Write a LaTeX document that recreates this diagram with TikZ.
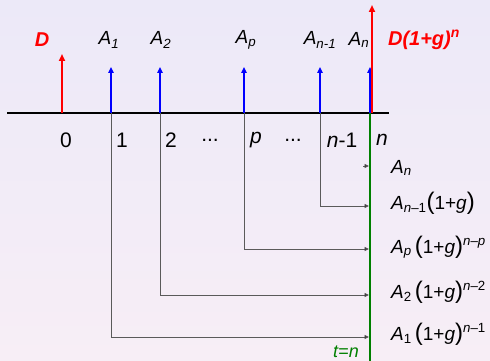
\documentclass[tikz,border=0pt]{standalone}
\usepackage{fontspec}
\setmainfont{Liberation Sans}
\usetikzlibrary{arrows.meta}
\definecolor{bgtop}{RGB}{236,233,248}
\definecolor{bgbot}{RGB}{247,238,246}
\definecolor{flowblue}{RGB}{0,0,255}
\definecolor{flowred}{RGB}{255,0,0}
\definecolor{lineg}{RGB}{0,128,0}
\definecolor{conn}{RGB}{90,90,90}
\tikzset{
  bluearr/.style={draw=flowblue, line width=2pt, -{Triangle[length=6pt,width=5.5pt]}},
  redarr/.style={draw=flowred, line width=2.4pt, -{Triangle[length=7pt,width=6pt]}},
  connarr/.style={draw=conn, line width=0.9pt, -{Triangle[length=4.5pt,width=4pt,fill=black]}},
  toplab/.style={font=\fontsize{19}{19}\selectfont\itshape, inner sep=0pt},
  redlab/.style={font=\fontsize{20}{20}\selectfont\bfseries\itshape, text=flowred, inner sep=0pt},
  numlab/.style={font=\fontsize{21}{21}\selectfont, inner sep=0pt},
  rlab/.style={font=\fontsize{19}{19}\selectfont, anchor=west, inner sep=0pt},
}
\newcommand{\bp}{{\fontsize{24}{24}\selectfont(}}
\newcommand{\ep}{{\fontsize{24}{24}\selectfont)}}
\newcommand{\hsup}[1]{\raisebox{1.5pt}{\textsuperscript{#1}}}
\begin{document}
\begin{tikzpicture}[x=1pt,y=-1pt]
\shade[top color=bgtop, bottom color=bgbot] (0,0) rectangle (490,361);
\useasboundingbox (0,0) rectangle (490,361);
% axis
\coordinate (axL) at (7,113);
\coordinate (axR) at (389,113);
\draw[line width=1.2pt] (axL) -- (axR);
% tick points
\coordinate (p0) at (62,113);
\coordinate (p1) at (111,113);
\coordinate (p2) at (160,113);
\coordinate (pp) at (244,113);
\coordinate (pn1) at (320,113);
\coordinate (pn) at (370,113);
\coordinate (pr) at (372,113);
% tops
\coordinate (h0) at (62,54);
\coordinate (h1) at (111,67);
\coordinate (h2) at (160,67);
\coordinate (hp) at (244,67);
\coordinate (hn1) at (320,67);
\coordinate (hn) at (370,67);
\coordinate (hr) at (372,5);
% green line
\coordinate (gb) at (370,361);
\draw[lineg, line width=2pt] (pn) -- (gb);
% connectors
\coordinate (c1) at (111,337);
\coordinate (c2) at (160,295);
\coordinate (cp) at (244,249);
\coordinate (cn1) at (320,206);
\coordinate (e1) at (369,337);
\coordinate (e2) at (369,295);
\coordinate (ep) at (369,249);
\coordinate (en1) at (369,206);
\coordinate (cn) at (363,166);
\coordinate (en) at (369,166);
\draw[connarr] (p1) -- (c1) -- (e1);
\draw[connarr] (p2) -- (c2) -- (e2);
\draw[connarr] (pp) -- (cp) -- (ep);
\draw[connarr] (pn1) -- (cn1) -- (en1);
\draw[connarr] (cn) -- (en);
% arrows
\draw[redarr] (p0) -- (h0);
\draw[bluearr] (p1) -- (h1);
\draw[bluearr] (p2) -- (h2);
\draw[bluearr] (pp) -- (hp);
\draw[bluearr] (pn1) -- (hn1);
\draw[bluearr] (pn) -- (hn);
\draw[redarr] (pr) -- (hr);
% top labels
\node[redlab] (lD) at (42,40) {D};
\node[toplab] (lA1) at (109,40) {A\textsubscript{1}};
\node[toplab] (lA2) at (161,40) {A\textsubscript{2}};
\node[toplab] (lAp) at (246,40) {A\textsubscript{p}};
\node[toplab] (lAn1) at (320,40) {A\textsubscript{n-1}};
\node[toplab] (lAn) at (359,40) {A\textsubscript{n}};
\node[redlab] (lDg) at (424,40) {D(1+g)\textsuperscript{n}};
% numbers
\node[numlab] (n0) at (66,140) {0};
\node[numlab] (n1) at (122,140) {1};
\node[numlab] (n2) at (171,140) {2};
\node[numlab] (nd1) at (210,140) {...};
\node[numlab] (np) at (256,140) {\itshape p};
\node[numlab] (nd2) at (293,140) {...};
\node[numlab] (nn1) at (342,140) {\textit{n}-1};
\node[numlab] (nn) at (382,140) {\itshape n};
% right labels
\node[rlab] (r1) at (391,168) {\textit{A}\textsubscript{\textit{n}}};
\node[rlab] (r2) at (391,203) {\textit{A}\textsubscript{\textit{n}–1}\bp1+\textit{g}\ep};
\node[rlab] (r3) at (391,247) {\textit{A}\textsubscript{\textit{p}}\,\bp1+\textit{g}\ep\hsup{\textit{n}–\textit{p}}};
\node[rlab] (r4) at (391,292) {\textit{A}\textsubscript{2}\,\bp1+\textit{g}\ep\hsup{\textit{n}–2}};
\node[rlab] (r5) at (391,334) {\textit{A}\textsubscript{1}\,\bp1+\textit{g}\ep\hsup{\textit{n}–1}};
\node[font=\fontsize{18}{18}\selectfont\itshape, text=lineg, inner sep=0pt] (tn) at (346,352) {t=n};
\end{tikzpicture}
\end{document}
